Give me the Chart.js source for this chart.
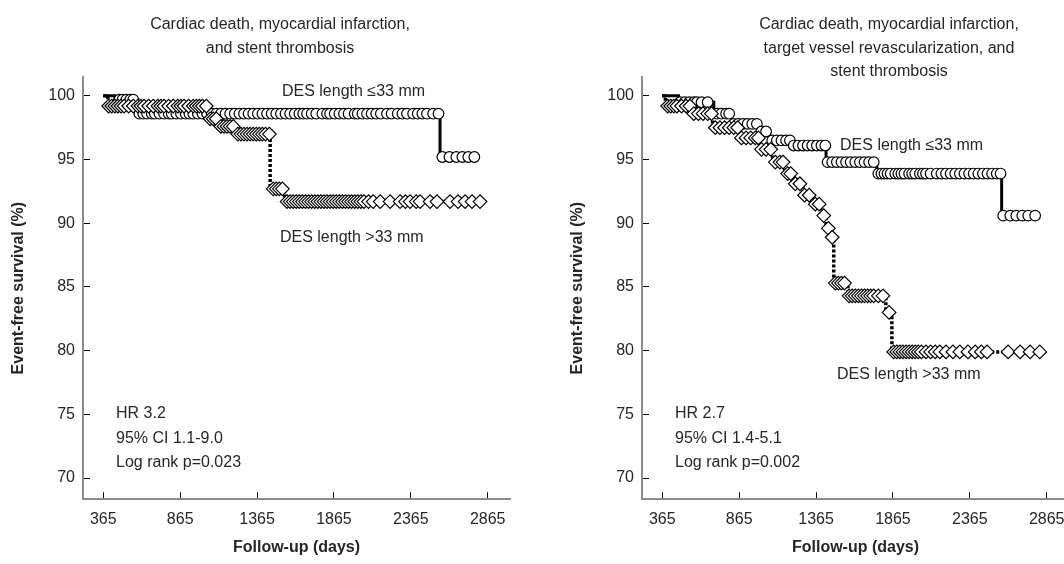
<!DOCTYPE html>
<html><head><meta charset="utf-8">
<script src="https://cdn.jsdelivr.net/npm/chart.js@4.4.0/dist/chart.umd.min.js"></script>
<style>
html,body{margin:0;padding:0;background:#fff;overflow:hidden;}
#wrap{position:relative;width:1064px;height:564px;overflow:hidden;background:#fff;}
canvas{position:absolute;top:0;}
</style></head><body>
<div id="wrap">
<canvas id="left" width="560" height="564" style="left:0"></canvas>
<canvas id="right" width="560" height="564" style="left:559px"></canvas>
</div>
<script>
// ---------- axis ticks ----------
const xTicks = [365, 865, 1365, 1865, 2365, 2865];
const yTicks = [70, 75, 80, 85, 90, 95, 100];

// ---------- left panel: cardiac death, MI, stent thrombosis ----------
// DES length <=33 mm : event times / survival after event
const leftShortTimes = [365, 440, 590, 2555];
const leftShortSurv  = [100, 99.7, 98.6, 95.2];
const leftShortCensor = [470,490,515,540,560,600,625,650,680,700,730,760,790,810,840,870,900,925,950,980,1010,1040,1070,1100,1130,1160,1190,1220,1250,1280,1310,1340,1370,1400,1430,1460,1490,1520,1550,1580,1610,1640,1665,1690,1720,1750,1790,1820,1840,1870,1900,1930,1960,2000,2020,2050,2080,2110,2140,2170,2210,2240,2280,2310,2340,2380,2410,2440,2470,2510,2545,2570,2616,2661,2700,2739,2778];
// DES length >33 mm
const leftLongTimes = [365, 395, 1045, 1110, 1220, 1450, 1545];
const leftLongSurv  = [100, 99.2, 98.2, 97.6, 97.0, 92.7, 91.7];
const leftLongCensor = [400,420,440,460,480,500,530,560,590,610,630,660,690,720,740,760,790,820,850,870,890,920,950,970,990,1010,1035,1060,1080,1100,1130,1150,1170,1190,1210,1240,1260,1280,1300,1320,1340,1360,1380,1400,1420,1445,1470,1490,1510,1530,1560,1580,1600,1620,1640,1660,1680,1700,1720,1740,1760,1780,1800,1820,1840,1860,1880,1900,1920,1940,1960,1980,2000,2020,2040,2060,2090,2120,2166,2230,2295,2330,2360,2400,2425,2490,2535,2620,2672,2718,2763,2815];

// ---------- right panel: + target vessel revascularization ----------
const rightShortTimes = [365, 470, 700, 815, 995, 1060, 1205, 1430, 1760, 2572];
const rightShortSurv  = [100, 99.5, 98.6, 97.8, 97.2, 96.5, 96.1, 94.8, 93.9, 90.6];
const rightShortCensor = [480,510,540,570,590,620,660,720,750,780,800,830,860,890,920,950,980,1010,1040,1080,1110,1140,1170,1195,1220,1250,1280,1310,1340,1370,1400,1425,1440,1470,1500,1530,1560,1590,1620,1650,1680,1710,1740,1770,1790,1810,1830,1850,1880,1900,1920,1940,1970,1990,2010,2040,2060,2080,2110,2150,2180,2210,2240,2270,2300,2330,2360,2390,2420,2450,2480,2510,2540,2565,2582,2628,2667,2706,2745,2790];
const rightLongTimes = [365, 385, 560, 692, 868, 998, 1083, 1161, 1213, 1278, 1340, 1395, 1430, 1455, 1480, 1572, 1819, 1858];
const rightLongSurv  = [100, 99.2, 98.6, 97.5, 96.7, 95.8, 94.8, 93.9, 93.1, 92.2, 91.5, 90.6, 89.6, 88.9, 85.3, 84.3, 83.0, 79.9];
const rightLongCensor = [400,420,440,460,490,520,545,570,600,630,660,685,710,740,770,800,830,855,880,910,940,970,990,1010,1040,1070,1100,1130,1150,1180,1200,1230,1260,1290,1320,1360,1385,1415,1445,1470,1490,1510,1530,1550,1580,1600,1620,1640,1660,1680,1700,1720,1740,1770,1800,1840,1870,1890,1910,1930,1950,1970,1990,2010,2030,2050,2080,2110,2140,2170,2210,2255,2300,2353,2400,2440,2477,2614,2692,2757,2820];

// ---------- texts ----------
const leftTitle  = ['Cardiac death, myocardial infarction,', 'and stent thrombosis'];
const rightTitle = ['Cardiac death, myocardial infarction,', 'target vessel revascularization, and', 'stent thrombosis'];
const leftStats  = ['HR 3.2', '95% CI 1.1-9.0', 'Log rank p=0.023'];
const rightStats = ['HR 2.7', '95% CI 1.4-5.1', 'Log rank p=0.002'];
const shortLabel = 'DES length \u226433 mm';
const longLabel  = 'DES length >33 mm';
const xTitle = 'Follow-up (days)';
const yTitle = 'Event-free survival (%)';

const FONT = "'Liberation Sans', Arial, sans-serif";
const TXT = '#262626';

function survAt(times, surv, t) {
  let s = surv[0];
  for (let i = 0; i < times.length; i++) { if (times[i] <= t) s = surv[i]; }
  return s;
}
function stepData(times, surv, censor) {
  const pts = times.map((t, i) => ({x: t, y: surv[i]}));
  const last = censor[censor.length - 1];
  pts.push({x: last, y: surv[surv.length - 1]});
  return pts;
}
function censorData(times, surv, censor) {
  return censor.map(t => ({x: t, y: survAt(times, surv, t)}));
}

const kmText = {
  id: 'kmText',
  afterDraw(chart, args, o) {
    const ctx = chart.ctx, xs = chart.scales.x, ys = chart.scales.y;
    ctx.save();
    ctx.fillStyle = TXT;
    ctx.font = '16px ' + FONT;
    ctx.textBaseline = 'alphabetic';
    ctx.textAlign = 'center';
    o.title.forEach((l, i) => ctx.fillText(l, o.titleX, 29 + i * 23.5));
    ctx.textAlign = 'left';
    o.stats.forEach((l, i) => ctx.fillText(l, xs.getPixelForValue(448), ys.getPixelForValue(74.7) + i * 24.5));
    o.labels.forEach(l => ctx.fillText(l.text, xs.getPixelForValue(l.x), ys.getPixelForValue(l.y)));
    ctx.restore();
  }
};

function makeChart(id, p) {
  const sShort = {type: 'line', data: stepData(p.st, p.ss, p.sc), stepped: true, borderColor: '#000', borderWidth: 3, pointRadius: 0, fill: false, order: 3};
  const sLong = {type: 'line', data: stepData(p.lt, p.ls, p.lc), stepped: true, borderColor: '#000', borderWidth: 3.5, borderDash: [3, 2], pointRadius: 0, fill: false, order: 2};
  const cShort = {type: 'line', data: censorData(p.st, p.ss, p.sc), showLine: false, pointStyle: 'circle', pointRadius: 5.3, pointBorderWidth: 1.2, pointBorderColor: '#000', pointBackgroundColor: '#fff', order: 1};
  const cLong = {type: 'line', data: censorData(p.lt, p.ls, p.lc), showLine: false, pointStyle: 'rectRot', pointRadius: 6.8, pointBorderWidth: 1.2, pointBorderColor: '#000', pointBackgroundColor: '#fff', order: 0};
  return new Chart(document.getElementById(id), {
    type: 'line',
    data: {datasets: [cLong, cShort, sLong, sShort]},
    plugins: [kmText],
    options: {
      responsive: false, animation: false, events: [],
      layout: {padding: {top: 77, bottom: 0, left: 0, right: 50}},
      plugins: {
        legend: {display: false}, tooltip: {enabled: false}, title: {display: false},
        kmText: {title: p.title, titleX: p.titleX, stats: p.stats, labels: p.labels}
      },
      scales: {
        x: {
          type: 'linear', min: 233, max: 3010,
          afterBuildTicks: s => { s.ticks = xTicks.map(v => ({value: v})); },
          afterFit: s => { s.height = 64.7; },
          grid: {display: true, drawOnChartArea: false, drawTicks: true, tickLength: -7, color: '#000', lineWidth: 1},
          border: {display: true, color: '#8c8c8c', width: 2},
          ticks: {padding: 18, color: TXT, font: {family: FONT, size: 16}, maxRotation: 0, autoSkip: false, callback: v => String(v)},
          title: {display: true, text: xTitle, color: TXT, font: {family: FONT, size: 16, weight: 'bold'}, padding: {top: 0, bottom: 7}}
        },
        y: {
          type: 'linear', min: 68.33, max: 101.48,
          afterBuildTicks: s => { s.ticks = yTicks.map(v => ({value: v})); },
          afterFit: s => { s.width = 83; },
          grid: {display: true, drawOnChartArea: false, drawTicks: true, tickLength: -7, color: '#000', lineWidth: 1},
          border: {display: true, color: '#8c8c8c', width: 2},
          ticks: {padding: 15, color: TXT, font: {family: FONT, size: 16}, callback: v => String(v)},
          title: {display: true, text: yTitle, color: TXT, font: {family: FONT, size: 16, weight: 'bold'}, padding: {top: 9, bottom: 0}}
        }
      }
    }
  });
}

makeChart('left', {
  st: leftShortTimes, ss: leftShortSurv, sc: leftShortCensor,
  lt: leftLongTimes, ls: leftLongSurv, lc: leftLongCensor,
  title: leftTitle, titleX: 280, stats: leftStats,
  labels: [{text: shortLabel, x: 1527, y: 99.98}, {text: longLabel, x: 1514, y: 88.52}]
});
makeChart('right', {
  st: rightShortTimes, ss: rightShortSurv, sc: rightShortCensor,
  lt: rightLongTimes, ls: rightLongSurv, lc: rightLongCensor,
  title: rightTitle, titleX: 330, stats: rightStats,
  labels: [{text: shortLabel, x: 1521, y: 95.74}, {text: longLabel, x: 1501, y: 77.76}]
});
</script>
</body></html>
